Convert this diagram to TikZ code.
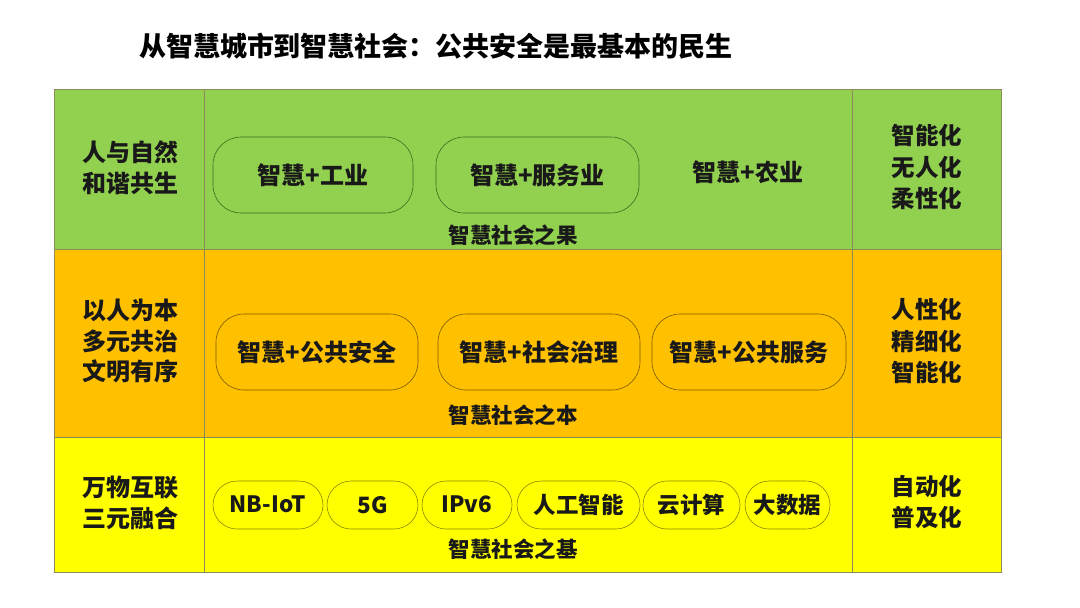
\documentclass[tikz,border=0pt]{standalone}
\usepackage{fontspec}
\setmainfont{Noto Sans CJK SC}
\definecolor{cgreen}{HTML}{92D050}
\definecolor{corange}{HTML}{FFC000}
\definecolor{cyellow}{HTML}{FFFF00}
\definecolor{gline}{HTML}{3F6A1C}
\definecolor{oline}{HTML}{7A5A00}
\definecolor{yline}{HTML}{8A8A00}
\definecolor{rowline}{HTML}{8C8C5A}
\begin{document}
\begin{tikzpicture}[x=1pt,y=-1pt,
  txt/.style={font=\bfseries\fontsize{24}{30.5}\selectfont, align=center, text=black!90, inner sep=0pt},
  sub/.style={font=\bfseries\fontsize{21.5}{24}\selectfont, text=black!90, inner sep=0pt},
  pill/.style={txt, draw, line width=0.6pt, rounded corners=28pt, minimum height=76pt},
  spill/.style={font=\bfseries\fontsize{22.5}{26}\selectfont, text=black!90, inner sep=0pt, draw=yline, line width=0.6pt, rounded corners=24pt, minimum height=48pt},
  band/.style={draw=rowline, line width=0.6pt}]
\useasboundingbox (0,0) rectangle (1080,608);
\fill[white] (0,0) rectangle (1080,608);
% title
\node[font=\bfseries\fontsize{27}{30}\selectfont, inner sep=0pt] (title) at (436,46) {从智慧城市到智慧社会：公共安全是最基本的民生};
% bands
\fill[cgreen] (54,89) rectangle (1001,249);
\fill[corange] (54,249) rectangle (1001,437);
\fill[cyellow] (54,437) rectangle (1001,572);
\draw[band] (54,89) rectangle (1001,572);
\draw[band] (54,249) -- (1001,249);
\draw[band] (54,437) -- (1001,437);
\draw[band] (204,89) -- (204,572);
\draw[band] (852,89) -- (852,572);
% green row
\node[txt] (l1) at (130,168) {人与自然\\和谐共生};
\node[pill, draw=gline, minimum width=200pt] (g1) at (313,175) {\raisebox{2pt}{智慧+工业}};
\node[pill, draw=gline, minimum width=203pt] (g2) at (537.5,175) {\raisebox{2pt}{智慧+服务业}};
\node[txt] (g3) at (748,172) {智慧+农业};
\node[sub] (s1) at (513,235) {智慧社会之果};
\node[txt, font=\bfseries\fontsize{23.5}{31.5}\selectfont] (r1) at (927,167) {智能化\\无人化\\柔性化};
% orange row
\node[txt] (l2) at (130,341) {以人为本\\多元共治\\文明有序};
\node[pill, draw=oline, minimum width=202pt] (o1) at (317,352) {\raisebox{1pt}{智慧+公共安全}};
\node[pill, draw=oline, minimum width=202pt] (o2) at (539,352) {\raisebox{1pt}{智慧+社会治理}};
\node[pill, draw=oline, minimum width=194pt] (o3) at (749,352) {\raisebox{1pt}{智慧+公共服务}};
\node[sub] (s2) at (513,415) {智慧社会之本};
\node[txt, font=\bfseries\fontsize{23.5}{31.5}\selectfont] (r2) at (927,341) {人性化\\精细化\\智能化};
% yellow row
\node[txt] (l3) at (130,503) {万物互联\\三元融合};
\node[spill, minimum width=110pt] (b1) at (268,505) {\raisebox{1pt}{NB-IoT}};
\node[spill, minimum width=91pt] (b2) at (372.5,505) {\raisebox{1pt}{5G}};
\node[spill, minimum width=90pt] (b3) at (467,505) {\raisebox{1pt}{IPv6}};
\node[spill, minimum width=123pt] (b4) at (578.5,505) {\raisebox{1pt}{人工智能}};
\node[spill, minimum width=97pt] (b5) at (691.5,505) {\raisebox{1pt}{云计算}};
\node[spill, minimum width=85pt] (b6) at (787.5,505) {\raisebox{1pt}{大数据}};
\node[sub] (s3) at (513,549) {智慧社会之基};
\node[txt, font=\bfseries\fontsize{23.5}{31.5}\selectfont] (r3) at (927,502) {自动化\\普及化};
\end{tikzpicture}
\end{document}
